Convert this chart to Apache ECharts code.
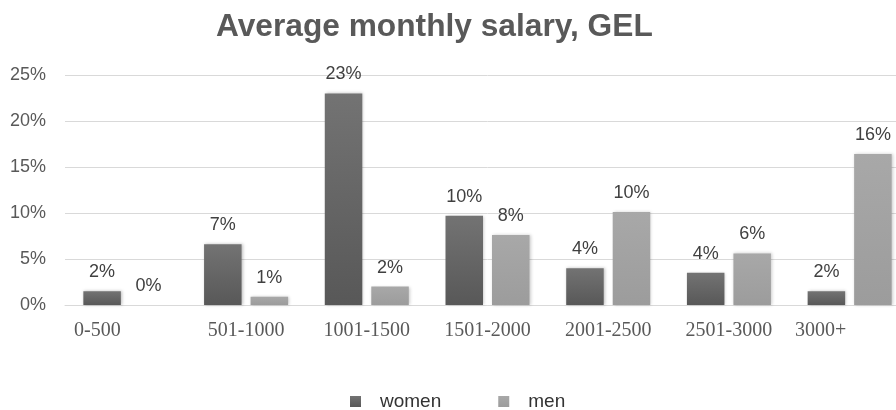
<!DOCTYPE html>
<html><head><meta charset="utf-8">
<script src="https://cdn.jsdelivr.net/npm/echarts@6/dist/echarts.min.js"></script>
<style>html,body{margin:0;padding:0;background:#fff;overflow:hidden;width:896px;height:410px}#c{width:910px;height:410px}</style>
</head><body><div id="c"></div>
<script>
const categories = ['0-500','501-1000','1001-1500','1501-2000','2001-2500','2501-3000','3000+'];
const women = [1.5, 6.6, 23.0, 9.7, 4.0, 3.5, 1.5];
const men = [0.0, 0.9, 2.0, 7.6, 10.1, 5.6, 16.4];
const yTicks = [0, 5, 10, 15, 20, 25];

const chart = echarts.init(document.getElementById('c'));
const lbl = {show:true, position:'top', distance:10, color:'#404040', fontFamily:'Liberation Sans, Arial, sans-serif', fontSize:18,
  formatter: p => Math.round(p.value) + '%'};
const xl = {color:'#595959', fontFamily:'Liberation Serif, Times New Roman, serif', fontSize:20};
chart.setOption({
  animation:false,
  title:{text:'Average monthly salary, GEL', left:211, top:6,
    textStyle:{fontFamily:'Liberation Sans, Arial, sans-serif', fontWeight:'bold', fontSize:31.7, color:'#595959'}},
  legend:{bottom:-6, left:345, itemWidth:11, itemHeight:11, itemGap:57, icon:'rect',
    textStyle:{fontFamily:'Liberation Sans, Arial, sans-serif', fontSize:19, color:'#333', padding:[0,0,0,14]},
    data:['women','men']},
  grid:{left:65, top:75, right:0, height:230, containLabel:false},
  xAxis:{type:'category', data:categories,
    axisLine:{lineStyle:{color:'#d9d9d9'}}, axisTick:{show:false},
    axisLabel:Object.assign({margin:16,
      formatter:(v,i)=> i===0 ? '{a|'+v+'}' : (i===categories.length-1 ? '{b|'+v+'}' : v),
      rich:{a:Object.assign({padding:[0,56,0,0]}, xl), b:Object.assign({padding:[0,58,0,0]}, xl)}}, xl)},
  yAxis:{type:'value', min:yTicks[0], max:yTicks[yTicks.length-1], interval:5,
    axisLabel:{formatter:'{value}%', color:'#595959', fontFamily:'Liberation Sans, Arial, sans-serif', fontSize:18, margin:19},
    splitLine:{lineStyle:{color:'#d9d9d9'}}, axisLine:{show:false}, axisTick:{show:false}},
  series:[
    {name:'women', type:'bar', data:women, barWidth:37.5, barGap:'24%', label:lbl,
      itemStyle:{color:new echarts.graphic.LinearGradient(0,0,0,1,[{offset:0,color:'#737373'},{offset:1,color:'#585858'}]),
        shadowBlur:3, shadowColor:'rgba(0,0,0,0.25)', shadowOffsetX:1, shadowOffsetY:0}},
    {name:'men', type:'bar', data:men, barWidth:37.5, label:lbl,
      itemStyle:{color:new echarts.graphic.LinearGradient(0,0,0,1,[{offset:0,color:'#a8a8a8'},{offset:1,color:'#9c9c9c'}]),
        shadowBlur:3, shadowColor:'rgba(0,0,0,0.2)', shadowOffsetX:1, shadowOffsetY:0}}
  ]
});
</script></body></html>
